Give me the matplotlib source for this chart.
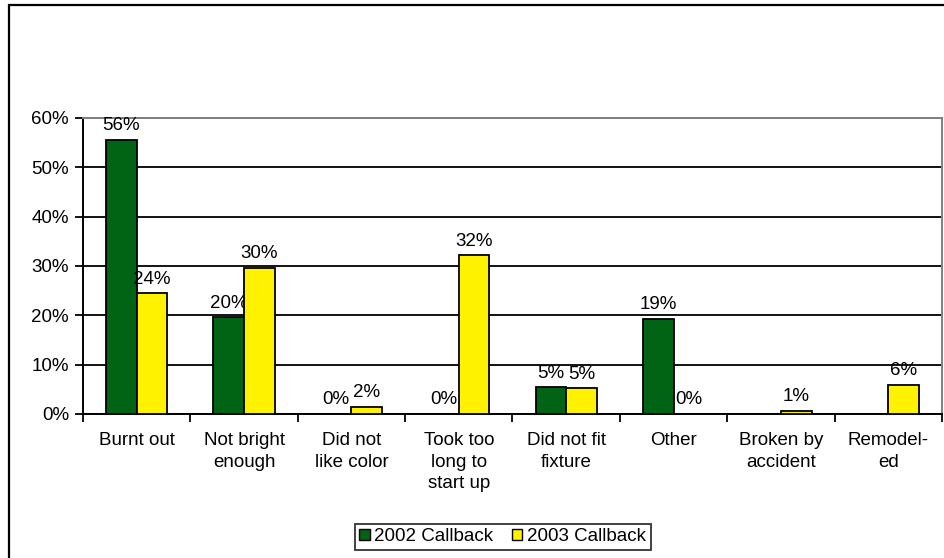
import matplotlib.pyplot as plt
import numpy as np
from matplotlib.patches import Patch, Rectangle
from matplotlib.ticker import PercentFormatter

plt.rcParams['font.family'] = ['Liberation Sans', 'DejaVu Sans']

# reasons for removing the bulbs, share of callback respondents
reasons = ["Burnt out", "Not bright\nenough", "Did not\nlike color",
           "Took too\nlong to\nstart up", "Did not fit\nfixture", "Other",
           "Broken by\naccident", "Remodel-\ned"]
callback_2002 = [0.556, 0.196, 0.0, 0.0, 0.054, 0.193, np.nan, np.nan]
callback_2003 = [0.245, 0.296, 0.015, 0.322, 0.052, 0.0, 0.007, 0.059]
series_names = ["2002 Callback", "2003 Callback"]
colors = ["#006414", "#FFF200"]

fig = plt.figure(figsize=(9.45, 5.58), dpi=100)
ax = fig.add_axes([83 / 945, 1 - 414 / 558, 859 / 945, 296 / 558])

# outer chart frame
fig.patches.append(Rectangle((9 / 945, -0.05), 1.0, 1 - 5 / 558 + 0.05,
                             transform=fig.transFigure, fill=False,
                             edgecolor="black", linewidth=1.6, zorder=0))

x = np.arange(len(reasons)) + 0.5
w = 0.285
fs = 13.5
for vals, off, col in [(callback_2002, -w / 2, colors[0]),
                       (callback_2003, w / 2, colors[1])]:
    for xi, v in zip(x, vals):
        if np.isnan(v):
            continue
        ax.bar(xi + off, v, w, color=col, edgecolor="black", linewidth=1.3,
               zorder=3)
        ax.annotate(f"{v * 100:.0f}%", (xi + off, v), xytext=(0, 4),
                    textcoords="offset points", ha="center", va="bottom",
                    fontsize=fs)

ax.set_xlim(0, len(reasons))
ax.set_ylim(0, 0.6)
ax.set_yticks(np.arange(0, 0.61, 0.1))
ax.yaxis.set_major_formatter(PercentFormatter(1, decimals=0))
ax.set_xticks(np.arange(len(reasons) + 1))
ax.set_xticklabels([])
ax.set_xticks(x, minor=True)
ax.set_xticklabels(reasons, minor=True, fontsize=fs, va="top",
                   linespacing=1.35)
ax.tick_params(axis="x", which="minor", length=0, pad=13)
ax.tick_params(axis="x", which="major", length=6, width=1.3, direction="out")
ax.tick_params(axis="y", length=6, width=1.3, direction="out", labelsize=fs,
               pad=4)

ax.grid(axis="y", color="black", linewidth=1.3, zorder=1)
for s in ["left", "bottom"]:
    ax.spines[s].set_color("black")
    ax.spines[s].set_linewidth(1.4)
for s in ["top", "right"]:
    ax.spines[s].set_color("#808080")
    ax.spines[s].set_linewidth(1.4)

handles = [Patch(facecolor=c, edgecolor="black", linewidth=1.0) for c in colors]
fig.legend(handles, series_names, loc="center", bbox_to_anchor=(0.532, 0.038),
           ncol=2, fontsize=fs, frameon=True, fancybox=False,
           edgecolor="black", handlelength=0.55, handleheight=0.55,
           handletextpad=0.25, columnspacing=1.0, borderpad=0.25)
fig.legends[0].get_frame().set_linewidth(1.3)

fig.savefig("out.png", dpi=100)
